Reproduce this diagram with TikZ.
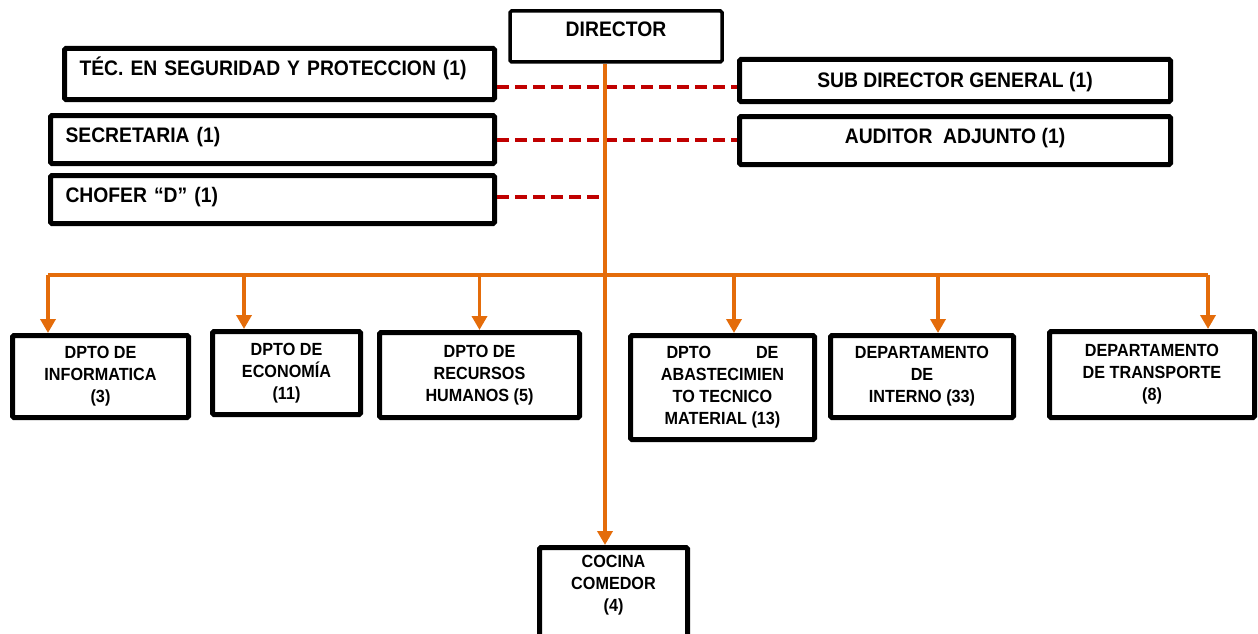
\documentclass[tikz,border=0pt]{standalone}
\usepackage{fontspec}
\setmainfont{Liberation Sans}[FakeStretch=0.92]
\usetikzlibrary{arrows.meta}
\definecolor{naranja}{RGB}{228,108,10}
\definecolor{rojo}{RGB}{192,0,0}
\newcommand{\letragrande}{\fontsize{21}{24}\selectfont\bfseries}
\newcommand{\letradpto}{\fontsize{17.6}{22}\selectfont\bfseries}
\tikzset{
	caja/.style={draw=black, line width=5pt, rounded corners=1.5pt, fill=white},
	cajatop/.style={caja, font=\letragrande, text height=16pt},
	cajaizq/.style={cajatop, align=left, inner xsep=15pt},
	cajadpto/.style={caja, font=\letradpto, align=center},
	linea/.style={draw=naranja, line width=3.5pt},
	flecha/.style={linea, -{Triangle[length=14pt,width=15pt]}},
	punteada/.style={draw=rojo, line width=4pt, dash pattern=on 12pt off 6pt}
}
\begin{document}
\begin{tikzpicture}[x=1pt,y=-1pt]
	\useasboundingbox (0,0) rectangle (1258,634);

	\node[cajatop, line width=3.5pt, minimum width=212pt, minimum height=51pt, text depth=16pt] (dir) at (616,36.5) {DIRECTOR};

	\node[cajaizq, minimum width=430pt, minimum height=51pt, text width=400pt, text depth=13pt] (tec) at (279.5,74) {TÉC. EN SEGURIDAD Y PROTECCION (1)};
	\node[cajaizq, minimum width=444pt, minimum height=48pt, text width=414pt, text depth=10pt] (sec) at (272.5,139.5) {SECRETARIA (1)};
	\node[cajaizq, minimum width=444pt, minimum height=48pt, text width=414pt, text depth=10pt] (cho) at (272.5,199.5) {CHOFER “D” (1)};

	\node[cajatop, minimum width=431pt, minimum height=42pt, text depth=1pt] (sub) at (955,80.5) {SUB DIRECTOR GENERAL (1)};
	\node[cajatop, minimum width=431pt, minimum height=48pt, text depth=10pt] (aud) at (955,140.5) {AUDITOR\ \ ADJUNTO (1)};

	\node[cajadpto, minimum width=176pt, minimum height=82pt] (inf) at (100.5,376.5) {DPTO DE\\INFORMATICA\\(3)};
	\node[cajadpto, minimum width=148pt, minimum height=83pt] (eco) at (286.5,373) {DPTO DE\\ECONOMÍA\\(11)};
	\node[cajadpto, minimum width=200pt, minimum height=85pt] (rrhh) at (479.5,375) {DPTO DE\\RECURSOS\\HUMANOS (5)};
	\node[cajadpto, minimum width=184pt, minimum height=104pt] (aba) at (722.5,387.5) {\makebox[112pt]{DPTO\hfill DE}\\ABASTECIMIEN\\TO TECNICO\\MATERIAL (13)};
	\node[cajadpto, minimum width=183pt, minimum height=82pt] (int) at (922,376.5) {DEPARTAMENTO\\DE\\INTERNO (33)};
	\node[cajadpto, minimum width=205pt, minimum height=86pt] (tra) at (1152,374.5) {DEPARTAMENTO\\DE TRANSPORTE\\(8)};
	\node[cajadpto, minimum width=148pt, minimum height=97pt, text depth=26pt] (coc) at (613.5,596) {COCINA\\COMEDOR\\(4)};

	\coordinate (bus) at (605,275);
	\coordinate (p1) at ([xshift=-52.5pt]inf.north);
	\coordinate (p2) at ([xshift=-42.5pt]eco.north);
	\coordinate (p3) at (rrhh.north);
	\coordinate (p4) at ([xshift=11.5pt]aba.north);
	\coordinate (p5) at ([xshift=16pt]int.north);
	\coordinate (p6) at ([xshift=56pt]tra.north);

	\draw[punteada] ([yshift=-13pt]tec.east) -- ([yshift=-13pt]tec.east -| sub.west);
	\draw[punteada] (sec.east) -- (sec.east -| aud.west);
	\draw[punteada] ([yshift=2.5pt]cho.east) -- ([yshift=2.5pt]cho.east -| bus);

	\draw[flecha] (dir.south -| bus) -- (coc.north -| bus);
	\draw[linea] (bus -| p1) -- (bus -| p6);
	\foreach \p in {p1,p2,p3,p4,p5,p6}
		\draw[flecha] (bus -| \p) -- (\p);
\end{tikzpicture}
\end{document}
